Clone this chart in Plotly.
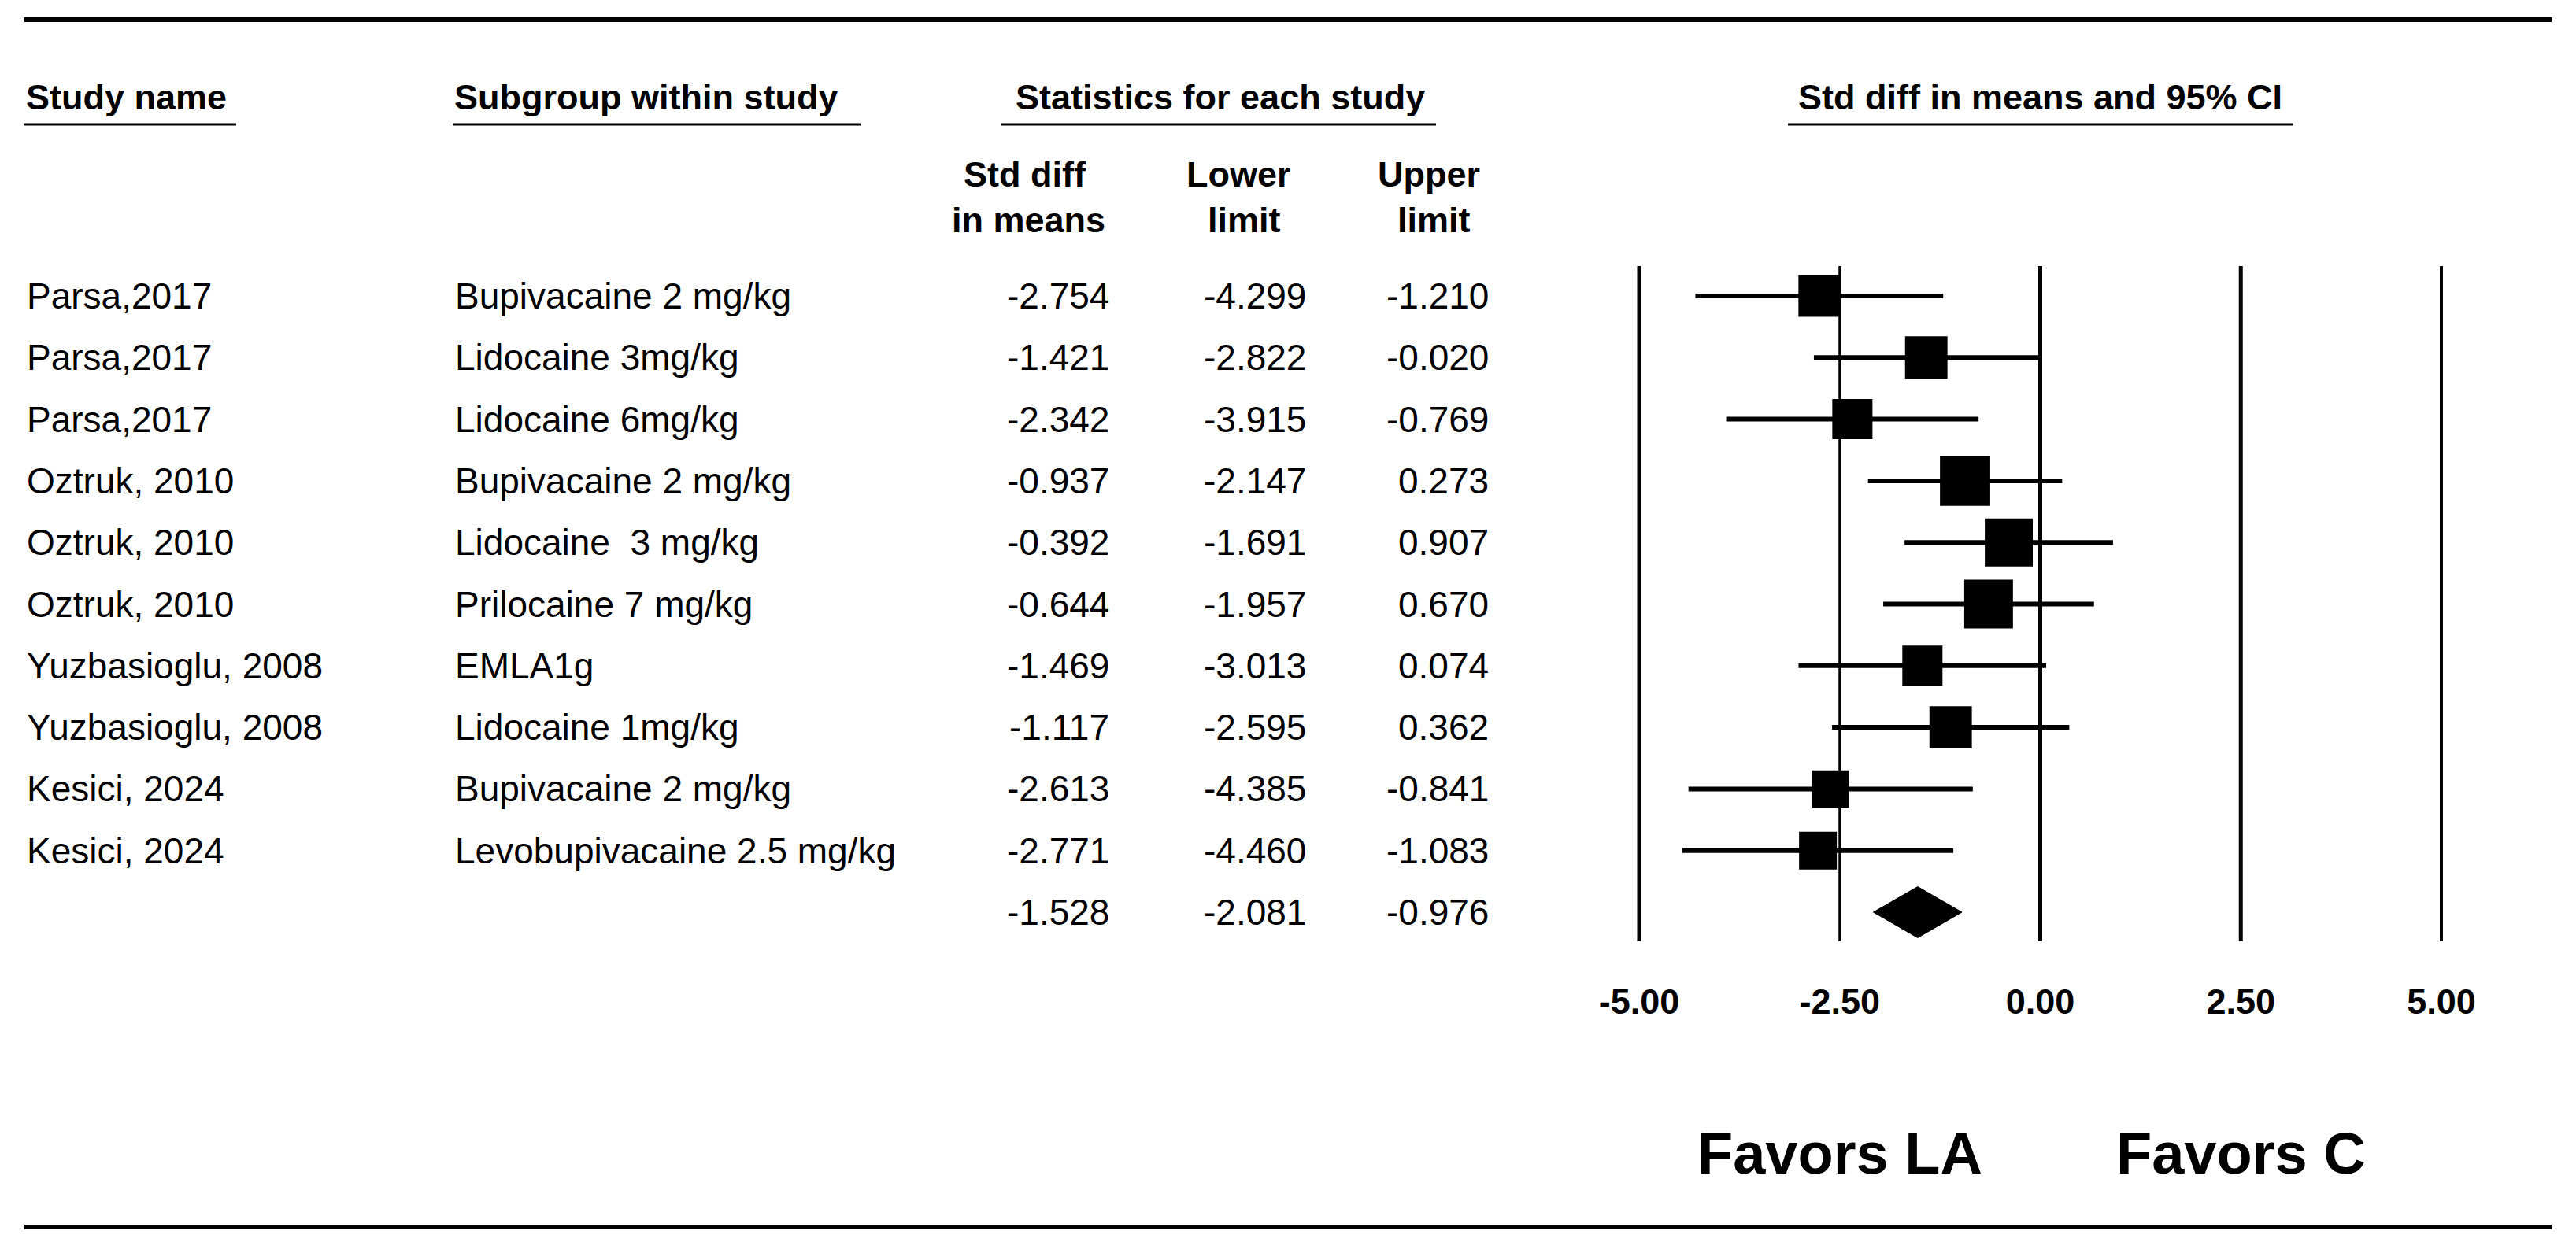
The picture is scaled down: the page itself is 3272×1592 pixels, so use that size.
import plotly.graph_objects as go

# ---------------- data ----------------
study_names = ["Parsa,2017", "Parsa,2017", "Parsa,2017", "Oztruk, 2010", "Oztruk, 2010",
               "Oztruk, 2010", "Yuzbasioglu, 2008", "Yuzbasioglu, 2008", "Kesici, 2024", "Kesici, 2024"]
subgroups = ["Bupivacaine 2 mg/kg", "Lidocaine 3mg/kg", "Lidocaine 6mg/kg", "Bupivacaine 2 mg/kg",
             "Lidocaine\u00a0 3 mg/kg", "Prilocaine 7 mg/kg", "EMLA1g", "Lidocaine 1mg/kg",
             "Bupivacaine 2 mg/kg", "Levobupivacaine 2.5 mg/kg"]
std_diff = [-2.754, -1.421, -2.342, -0.937, -0.392, -0.644, -1.469, -1.117, -2.613, -2.771]
lower_limit = [-4.299, -2.822, -3.915, -2.147, -1.691, -1.957, -3.013, -2.595, -4.385, -4.460]
upper_limit = [-1.210, -0.020, -0.769, 0.273, 0.907, 0.670, 0.074, 0.362, -0.841, -1.083]
rel_weight = [9.4, 9.7, 8.7, 13.6, 12.4, 12.8, 8.7, 9.7, 7.4, 7.7]
summary_est = -1.528
summary_lower = -2.081
summary_upper = -0.976
tick_values = [-5.0, -2.5, 0.0, 2.5, 5.0]
tick_labels = ["-5.00", "-2.50", "0.00", "2.50", "5.00"]
favors_labels = ["Favors LA", "Favors C"]
favors_x = [-2.5, 2.5]

# ---------------- geometry / style ----------------
W, H = 3272, 1592
ROW0_PX, ROW_STEP = 376.0, 78.3          # pixel centre of first row, row spacing
X0_PX, PX_PER_UNIT = 2082.0, 101.9       # pixel of x=-5, pixels per unit
FONT = "Liberation Sans, Arial, sans-serif"


def px(x):
    return x / W


def py(y):
    return 1 - y / H


def row_of(ypix):
    return (ypix - ROW0_PX) / ROW_STEP


x_left = -5 - X0_PX / PX_PER_UNIT
x_right = -5 + (W - X0_PX) / PX_PER_UNIT
y_top = row_of(0)
y_bottom = row_of(H)

n = len(std_diff)
rows = list(range(n))
summary_row = n

fig = go.Figure()

# confidence interval lines
ci_x, ci_y = [], []
for r, lo, hi in zip(rows, lower_limit, upper_limit):
    ci_x += [lo, hi, None]
    ci_y += [r, r, None]
fig.add_trace(go.Scatter(x=ci_x, y=ci_y, mode="lines",
                         line=dict(color="black", width=6), hoverinfo="skip"))

# squares
sizes = [17.3 * (w ** 0.5) for w in rel_weight]
fig.add_trace(go.Scatter(x=std_diff, y=rows, mode="markers",
                         marker=dict(symbol="square", size=sizes, color="black", opacity=1,
                                     line=dict(width=0)),
                         hoverinfo="skip"))

# summary diamond
half_h = 32.5 / ROW_STEP
fig.add_trace(go.Scatter(
    x=[summary_lower, summary_est, summary_upper, summary_est, summary_lower],
    y=[summary_row, summary_row - half_h, summary_row, summary_row + half_h, summary_row],
    mode="lines", fill="toself", fillcolor="black",
    line=dict(color="black", width=1), hoverinfo="skip"))

# vertical reference lines at ticks
line_widths = [5, 3, 5, 5, 4]
v_top = row_of(338)
v_bot = row_of(1196)
shapes = []
for tv, lw in zip(tick_values, line_widths):
    shapes.append(dict(type="line", xref="x", yref="y", x0=tv, x1=tv, y0=v_top, y1=v_bot,
                       line=dict(color="black", width=lw), layer="above"))

# horizontal rules
for ypix, lw in [(25, 6), (1559, 6)]:
    shapes.append(dict(type="line", xref="paper", yref="paper", x0=px(31), x1=px(3241),
                       y0=py(ypix), y1=py(ypix), line=dict(color="black", width=lw)))

# header underlines
for x0p, x1p in [(30, 300), (575, 1093), (1272, 1824), (2271, 2913)]:
    shapes.append(dict(type="line", xref="paper", yref="paper", x0=px(x0p), x1=px(x1p),
                       y0=py(158), y1=py(158), line=dict(color="black", width=3)))

annotations = []


def add_text(text, x, y, xanchor, size=46, bold=False, xref="paper"):
    annotations.append(dict(
        text=text, x=x, y=y, xref=xref, yref="paper", xanchor=xanchor, yanchor="middle",
        showarrow=False, font=dict(family=FONT, size=size, color="black",
                                   weight="bold" if bold else "normal")))


# headers
add_text("Study name", px(31), py(124), "left", 45, True)
add_text("Subgroup within study", px(575), py(124), "left", 45, True)
add_text("Statistics for each study", px(1550), py(124), "center", 45, True)
add_text("Std diff in means and 95% CI", 0.0, py(124), "center", 45, True, xref="x")
add_text("Std diff", px(1302), py(222), "center", 45, True)
add_text("in means", px(1306), py(279), "center", 45, True)
add_text("Lower", px(1573), py(222), "center", 45, True)
add_text("limit", px(1580), py(279), "center", 45, True)
add_text("Upper", px(1815), py(222), "center", 45, True)
add_text("limit", px(1821), py(279), "center", 45, True)

# table rows
for r in rows:
    ypix = ROW0_PX + r * ROW_STEP
    add_text(study_names[r], px(32), py(ypix), "left")
    add_text(subgroups[r], px(576), py(ypix), "left")
    add_text(f"{std_diff[r]:.3f}", px(1411), py(ypix), "right")
    add_text(f"{lower_limit[r]:.3f}", px(1661), py(ypix), "right")
    add_text(f"{upper_limit[r]:.3f}", px(1893), py(ypix), "right")

ypix = ROW0_PX + summary_row * ROW_STEP
add_text(f"{summary_est:.3f}", px(1411), py(ypix), "right")
add_text(f"{summary_lower:.3f}", px(1661), py(ypix), "right")
add_text(f"{summary_upper:.3f}", px(1893), py(ypix), "right")

# favours labels
for lab, fx in zip(favors_labels, favors_x):
    add_text(lab, fx, py(1465), "center", 74, True, xref="x")

fig.update_layout(
    width=W, height=H, autosize=False,
    margin=dict(l=0, r=0, t=0, b=0, pad=0),
    paper_bgcolor="white", plot_bgcolor="white",
    showlegend=False,
    shapes=shapes, annotations=annotations,
    xaxis=dict(domain=[0, 1], range=[x_left, x_right], showgrid=False, zeroline=False,
               showline=False, ticks="", tickmode="array", tickvals=tick_values,
               ticktext=tick_labels, anchor="free", position=py(1242),
               tickfont=dict(family=FONT, size=45, color="black", weight="bold"),
               fixedrange=True),
    yaxis=dict(domain=[0, 1], range=[y_bottom, y_top], visible=False, fixedrange=True),
)

fig.write_html("out.html", config={"displayModeBar": False, "staticPlot": True},
               post_script="document.body.style.margin='0px';document.body.style.padding='0px';")
